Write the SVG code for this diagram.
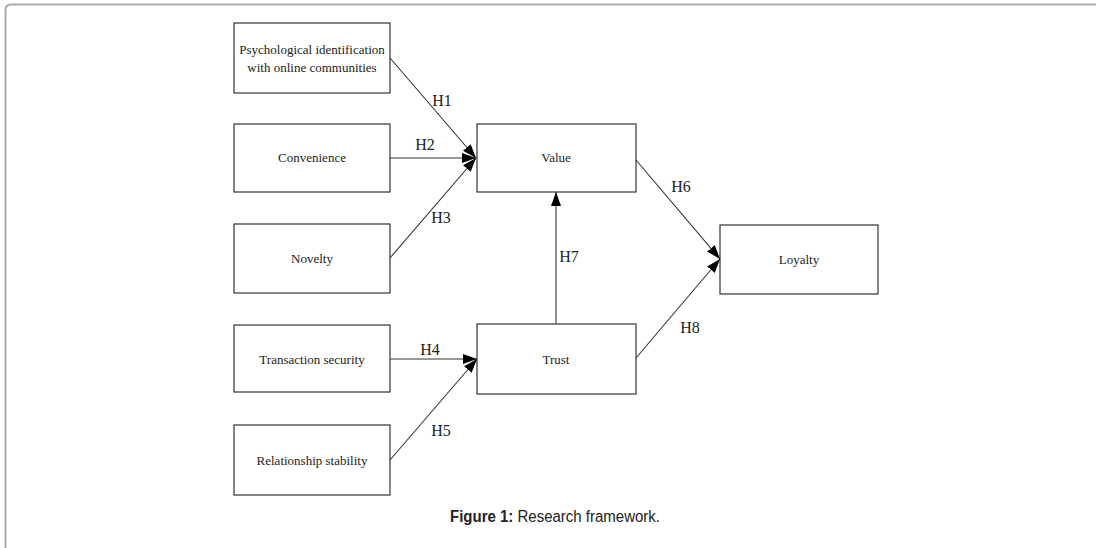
<svg xmlns="http://www.w3.org/2000/svg" width="1096" height="548" viewBox="0 0 1096 548">
<defs>
<marker id="ah" viewBox="0 0 14 10" refX="14" refY="5" markerWidth="14" markerHeight="10" markerUnits="userSpaceOnUse" orient="auto">
<path d="M0,0 L14,5 L0,10 Z" fill="#000"/>
</marker>
<style>
.box{fill:#fff;stroke:#333;stroke-width:1.2}
.t{font-family:"Liberation Serif",serif;font-size:13px;fill:#222;text-anchor:middle}
.h{font-family:"Liberation Serif",serif;font-size:16px;fill:#222;text-anchor:middle}
.c{stroke:#333;stroke-width:1.1;fill:none;marker-end:url(#ah)}
</style>
</defs>
<rect width="1096" height="548" fill="#fff"/>
<path d="M5.5,548 L5.5,10 Q5.5,4.5 11,4.5 L1096,4.5" fill="none" stroke="#aaa" stroke-width="2"/>
<g id="psych"><rect class="box" x="234" y="23" width="156" height="70"/><text class="t" x="312" y="54">Psychological  identification</text><text class="t" x="312" y="72">with online communities</text></g>
<g id="convenience"><rect class="box" x="234" y="124" width="156" height="68"/><text class="t" x="312" y="162">Convenience</text></g>
<g id="novelty"><rect class="box" x="234" y="224" width="156" height="69"/><text class="t" x="312" y="263">Novelty</text></g>
<g id="transaction"><rect class="box" x="234" y="325" width="156" height="67"/><text class="t" x="312" y="364">Transaction  security</text></g>
<g id="relationship"><rect class="box" x="234" y="425" width="156" height="70"/><text class="t" x="312" y="465">Relationship  stability</text></g>
<g id="value"><rect class="box" x="477" y="124" width="159" height="68"/><text class="t" x="556" y="162">Value</text></g>
<g id="trust"><rect class="box" x="477" y="324" width="159" height="70"/><text class="t" x="556" y="364">Trust</text></g>
<g id="loyalty"><rect class="box" x="720" y="225" width="158" height="69"/><text class="t" x="799" y="264">Loyalty</text></g>
<g id="connectors">
<line class="c" x1="390" y1="58" x2="476" y2="158"/>
<line class="c" x1="390" y1="158" x2="476" y2="158"/>
<line class="c" x1="390" y1="258" x2="476" y2="158"/>
<line class="c" x1="390" y1="359" x2="477" y2="359"/>
<line class="c" x1="390" y1="460" x2="477" y2="359"/>
<line class="c" x1="556" y1="324" x2="556" y2="192"/>
<line class="c" x1="636" y1="160" x2="720" y2="259"/>
<line class="c" x1="636" y1="358" x2="720" y2="259"/>
<text class="h" x="442" y="106">H1</text>
<text class="h" x="425" y="150">H2</text>
<text class="h" x="441" y="223">H3</text>
<text class="h" x="430" y="355">H4</text>
<text class="h" x="441" y="436">H5</text>
<text class="h" x="681" y="192">H6</text>
<text class="h" x="569" y="262">H7</text>
<text class="h" x="690" y="333">H8</text>
</g>
<text x="555" y="522" font-family="'Liberation Sans',sans-serif" font-size="16" fill="#222" text-anchor="middle" textLength="210" lengthAdjust="spacingAndGlyphs"><tspan font-weight="bold">Figure 1:</tspan> Research framework.</text>
</svg>
